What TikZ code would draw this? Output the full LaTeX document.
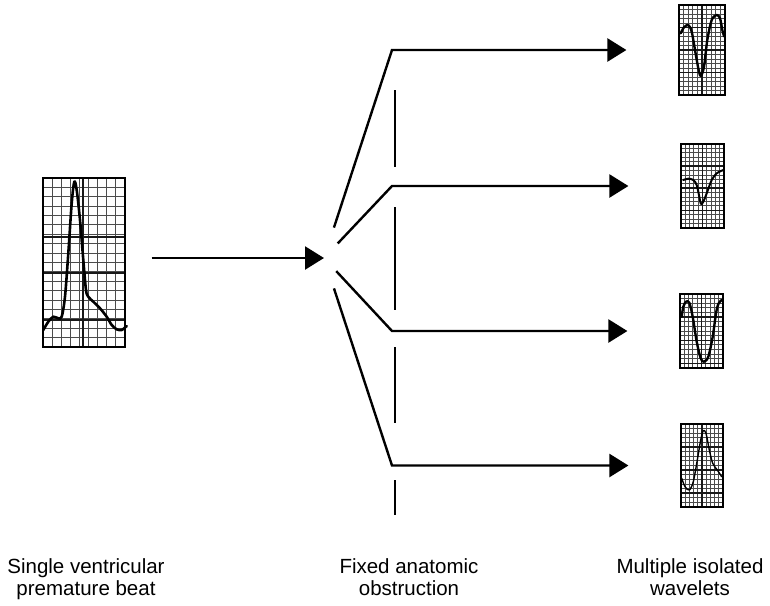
\documentclass[tikz,border=0pt]{standalone}
\usepackage{fontspec}
\setmainfont{Liberation Sans}
\usetikzlibrary{arrows.meta,positioning,fit}

\begin{document}
\begin{tikzpicture}[x=1pt, y=-1pt,
    wire/.style={line width=2.4pt},
    head/.style={-{Triangle[length=19pt,width=23pt]}},
    fine/.style={gray!60!black, line width=1pt},
    major/.style={black!90, line width=1.5pt},
    panel/.style={draw, line width=1.2pt, inner sep=0pt},
    trace/.style={line width=2.6pt, line join=round, line cap=round},
    caption/.style={font=\fontsize{20.5}{22.5}\selectfont, align=center, anchor=north, inner sep=0pt}]
    \useasboundingbox (0,0) rectangle (770,605);

    % Premature beat
    \foreach \i in {1,...,8}
        \draw[fine] ({43+82*\i/9},178) -- ({43+82*\i/9},347);
    \foreach \j in {1,...,17}
        \draw[fine] (43,{178+169*\j/18}) -- (125,{178+169*\j/18});
    \draw[major] (83,178) -- (83,347);
    \foreach \j in {237,273,320}
        \draw[major] (43,\j) -- (125,\j);
    \node[panel, fit={(43,178) (125,347)}] (beat) {};
    \draw[trace] plot[smooth] coordinates {(43.3,330) (48.3,321.7) (53.3,316.7) (58.3,318.3) (61.7,316.7)
        (65,296.7) (68.3,253.3) (71.7,203.3) (74.3,181.7) (76.7,190) (80,220) (83.3,260) (86,290)
        (88.3,296.7) (93.3,301.7) (100,308.3) (106.7,316.7) (111.7,325) (116.7,329.3) (121.7,330) (126.7,326)};

    % Wavelet panels
    \foreach \n/\xa/\ya/\xb/\yb/\r in {1/679/5/725/95/19, 2/681/144/724/228/18,
                                     3/680/294/723/368/15, 4/681/424/723/507/17} {
        \foreach \i in {1,...,9}
            \draw[fine, line width=0.9pt] ({\xa+(\xb-\xa)*\i/10},\ya) -- ({\xa+(\xb-\xa)*\i/10},\yb);
        \foreach \j in {1,...,\r}
            \draw[fine, line width=0.9pt] (\xa,{\ya+(\yb-\ya)*\j/(\r+1)}) -- (\xb,{\ya+(\yb-\ya)*\j/(\r+1)});
        \draw[major] ({(\xa+\xb)/2},\ya) -- ({(\xa+\xb)/2},\yb);
        \foreach \j in {5,10,15}
            \draw[major] (\xa,{\ya+(\yb-\ya)*\j/(\r+1)}) -- (\xb,{\ya+(\yb-\ya)*\j/(\r+1)});
        \node[panel, fit={(\xa,\ya) (\xb,\yb)}] (wave\n) {};
    }
    \draw[trace, line width=2.4pt] plot[smooth] coordinates {(680.7,33.3) (684,27.3) (688.3,25) (691.7,31.7)
        (695,50) (698.3,68.3) (700.7,76) (704,66.7) (707.3,40) (711.7,20) (716.7,15) (720,18.3)
        (722.3,30) (724,36) (725,36.7)};
    \draw[trace, line width=2pt] plot[smooth] coordinates {(683.3,180) (688.3,178.7) (693.3,180) (696.7,185)
        (699.3,196.7) (701,204) (703.3,201.7) (706.7,193.3) (711.7,180) (716.7,173.3) (723.3,170)};
    \draw[trace, line width=2.4pt] plot[smooth] coordinates {(681.7,316.7) (683.3,306.7) (686,301.7) (689.3,302.7)
        (692.7,316.7) (696.7,341.7) (700.7,358.3) (704,361.7) (708.3,356.7) (712.7,336.7) (716,313.3)
        (718.3,304) (721.7,300)};
    \draw[trace, line width=1.4pt] plot[smooth] coordinates {(681.7,478.3) (685,486.7) (689.3,490) (693.3,481.7)
        (697.3,460) (700.7,440) (703.3,430.7) (706,433.3) (709.3,450) (712.7,463.3) (717.3,470) (721.7,476.7)};

    % Beat splitting round the obstruction
    \coordinate (split) at (324,258);
    \draw[wire, head, shorten <=26pt] (beat.east |- split) -- (split);
    \foreach \n/\y/\s in {1/50/32, 2/186/20, 3/331/18, 4/465.5/32} {
        \coordinate (bend\n) at (392,\y);
        \draw[wire, head, shorten <=\s pt, shorten >=52pt] (split) -- (bend\n) -- (wave\n.west);
    }

    % Obstruction
    \foreach \a/\b in {90/167, 207/310, 347/423, 480/515}
        \draw[wire] (395,\a) -- (395,\b);

    % Captions
    \node[caption] (beatlabel) at (86,558) {Single ventricular\\premature beat};
    \node[caption] (obstlabel) at (409,558) {Fixed anatomic\\obstruction};
    \node[caption] (wavelabel) at (690,558) {Multiple isolated\\wavelets};
\end{tikzpicture}
\end{document}
